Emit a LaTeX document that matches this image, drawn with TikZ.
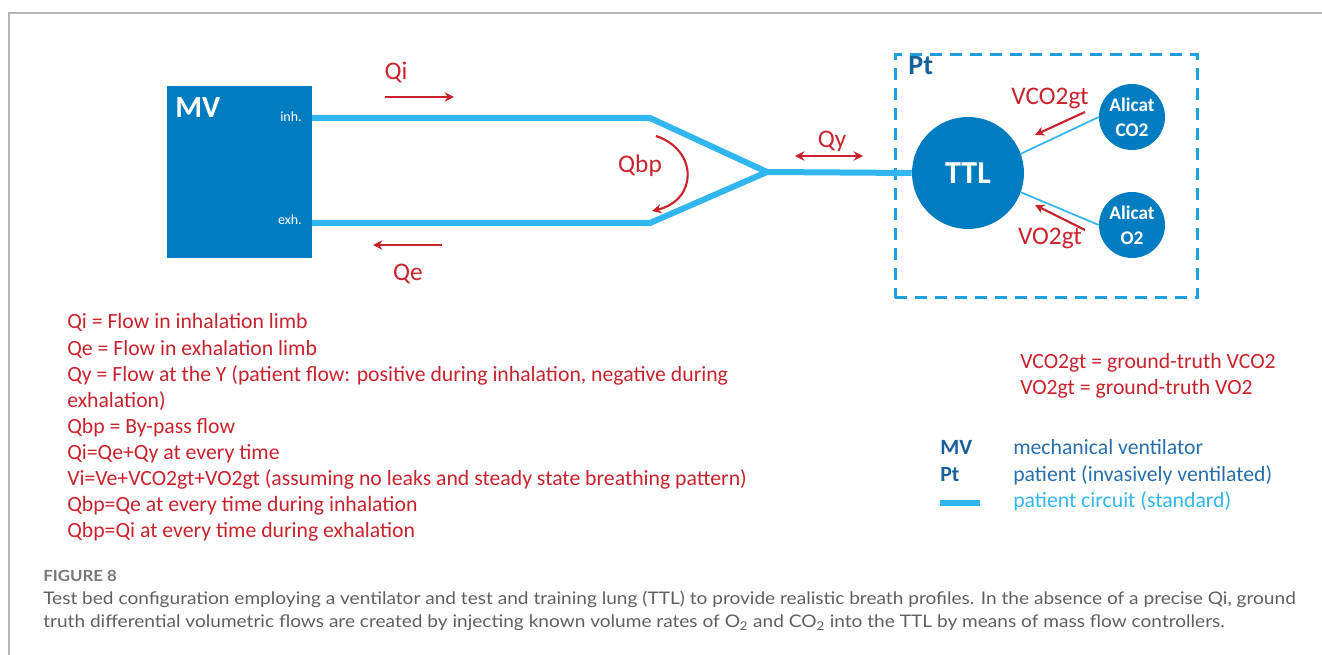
\documentclass[tikz,border=0pt]{standalone}
\usepackage{fontspec}
\setmainfont{Carlito}
\newfontfamily\capfont[FakeStretch=1.1]{Lato}
\usetikzlibrary{arrows.meta}
\definecolor{mvblue}{RGB}{0,125,192}
\definecolor{tubeblue}{RGB}{50,182,240}
\definecolor{dashblue}{RGB}{30,160,222}
\definecolor{flowred}{RGB}{200,35,45}
\definecolor{legdark}{RGB}{25,95,155}
\definecolor{legmid}{RGB}{40,110,170}
\definecolor{capgray}{RGB}{95,95,95}
\definecolor{framegray}{RGB}{180,180,180}
\tikzset{
  tube/.style={draw=tubeblue, line width=4.5pt, line join=miter},
  thinlink/.style={draw=tubeblue, line width=1.3pt},
  flow/.style={draw=flowred, line width=1.6pt, -{Stealth[length=7pt,width=7pt]}},
  flowboth/.style={draw=flowred, line width=1.6pt, {Stealth[length=7pt,width=7pt]}-{Stealth[length=7pt,width=7pt]}},
  flowlbl/.style={text=flowred, font=\fontsize{19}{22}\selectfont, inner sep=0, anchor=base},
  legred/.style={text=flowred, font=\fontsize{16.3}{19}\selectfont, anchor=base west, inner sep=0},
  legkey/.style={text=legdark, font=\bfseries\fontsize{16.3}{19}\selectfont, anchor=base west, inner sep=0},
  legdesc/.style={font=\fontsize{16.3}{19}\selectfont, anchor=base west, inner sep=0},
  portlbl/.style={text=white, font=\fontsize{10.5}{12}\selectfont, anchor=base east, inner sep=0},
  device/.style={circle, fill=mvblue, text=white, inner sep=0, align=center},
  captxt/.style={text=capgray, font=\capfont\fontsize{13}{15}\selectfont, anchor=base west, inner sep=0}
}
\begin{document}
\begin{tikzpicture}[x=0.75pt,y=-0.75pt]
\useasboundingbox (0,0) rectangle (1322,655);
% frame
\coordinate (fr0) at (9,13);
\coordinate (fr1) at (1322,13);
\coordinate (fr2) at (9,655);
\draw[framegray, line width=1.1pt] (fr1) -- (fr0) -- (fr2);

% ventilator
\node[fill=mvblue, minimum width=108.75pt, minimum height=129pt, inner sep=0] (MV) at (239.5,172) {};
\node[text=white, font=\bfseries\fontsize{23}{26}\selectfont, anchor=base west, inner sep=0] (mvlbl) at (175,118) {MV};
\node[portlbl] (inhlbl) at (302,121.5) {inh.};
\node[portlbl] (exhlbl) at (302,225) {exh.};

% patient box
\node[draw=dashblue, line width=2.25pt, dash pattern=on 9pt off 6pt, minimum width=226.5pt, minimum height=182.25pt, inner sep=0] (ptbox) at (1046,176.5) {};
\node[text=legdark, font=\bfseries\fontsize{21}{24}\selectfont, anchor=base west, inner sep=0] (ptlbl) at (908,75) {Pt};

% lung and controllers
\node[device, minimum size=84pt, font=\bfseries\fontsize{24}{27}\selectfont] (TTL) at (968,173) {TTL};
\node[device, minimum size=49.5pt, font=\bfseries\fontsize{14.5}{19}\selectfont] (co2) at (1132,117) {Alicat\\CO2};
\node[device, minimum size=49.5pt, font=\bfseries\fontsize{14.5}{19}\selectfont] (o2) at (1132,225) {Alicat\\O2};

% tubing
\coordinate (inh) at (312,118);
\coordinate (exh) at (312,223);
\coordinate (b1) at (650,118);
\coordinate (b2) at (650,223);
\coordinate (yj) at (767,172);
\draw[tube] (inh) -- (b1) -- (yj) -- (TTL.west);
\draw[tube] (exh) -- (b2) -- (yj);
\draw[thinlink] (TTL.20) -- (co2.west);
\draw[thinlink] (TTL.-20) -- (o2.west);

% flow labels
\node[flowlbl] (qi) at (396,80) {Qi};
\coordinate (qi0) at (385,97);
\coordinate (qi1) at (454,97);
\draw[flow] (qi0) -- (qi1);
\node[flowlbl] (qe) at (408,281) {Qe};
\coordinate (qe0) at (442,245);
\coordinate (qe1) at (373,245);
\draw[flow] (qe0) -- (qe1);
\node[flowlbl] (qbp) at (640,173) {Qbp};
\coordinate (bp0) at (656,136);
\coordinate (bp1) at (652,211);
\draw[flow] (bp0) .. controls (698,150) and (698,200) .. (bp1);
\node[flowlbl] (qy) at (832,148) {Qy};
\coordinate (qy0) at (795,156);
\coordinate (qy1) at (863,156);
\draw[flowboth] (qy0) -- (qy1);
\node[flowlbl] (vco2) at (1050,105) {VCO2gt};
\coordinate (vc0) at (1085,112);
\coordinate (vc1) at (1035,135);
\draw[flow] (vc0) -- (vc1);
\node[flowlbl] (vo2) at (1050,245) {VO2gt};
\coordinate (vo0) at (1085,230);
\coordinate (vo1) at (1035,205);
\draw[flow] (vo0) -- (vo1);

% left legend
\node[legred] (l1) at (67,329) {Qi = Flow in inhalation limb};
\node[legred] (l2) at (67,355.1) {Qe = Flow in exhalation limb};
\node[legred] (l3) at (67,381.2) {Qy = Flow at the Y (patient flow: positive during inhalation, negative during};
\node[legred] (l4) at (67,407.3) {exhalation)};
\node[legred] (l5) at (67,433.4) {Qbp = By-pass flow};
\node[legred] (l6) at (67,459.5) {Qi=Qe+Qy at every time};
\node[legred] (l7) at (67,485.6) {Vi=Ve+VCO2gt+VO2gt (assuming no leaks and steady state breathing pattern)};
\node[legred] (l8) at (67,511.7) {Qbp=Qe at every time during inhalation};
\node[legred] (l9) at (67,537.8) {Qbp=Qi at every time during exhalation};

% right legend
\node[legred] (r1) at (1020,369) {VCO2gt = ground-truth VCO2};
\node[legred] (r2) at (1020,395) {VO2gt = ground-truth VO2};
\node[legkey] (k1) at (940,455) {MV};
\node[legdesc, text=legmid] (d1) at (1013,455) {mechanical ventilator};
\node[legkey] (k2) at (940,482) {Pt};
\node[legdesc, text=legmid] (d2) at (1013,482) {patient (invasively ventilated)};
\coordinate (k3a) at (940,503);
\coordinate (k3b) at (980,503);
\draw[tube] (k3a) -- (k3b);
\node[legdesc, text=tubeblue] (d3) at (1013,508) {patient circuit (standard)};

% caption
\node[captxt, font=\capfont\bfseries\fontsize{11.5}{13}\selectfont, text=capgray!85] (fig) at (43,581.5) {FIGURE 8};
\node[captxt] (c1) at (43,605) {Test bed configuration employing a ventilator and test and training lung (TTL) to provide realistic breath profiles. In the absence of a precise Qi, ground};
\node[captxt] (c2) at (43,627.3) {truth differential volumetric flows are created by injecting known volume rates of O\textsubscript{2} and CO\textsubscript{2} into the TTL by means of mass flow controllers.};
\end{tikzpicture}
\end{document}
